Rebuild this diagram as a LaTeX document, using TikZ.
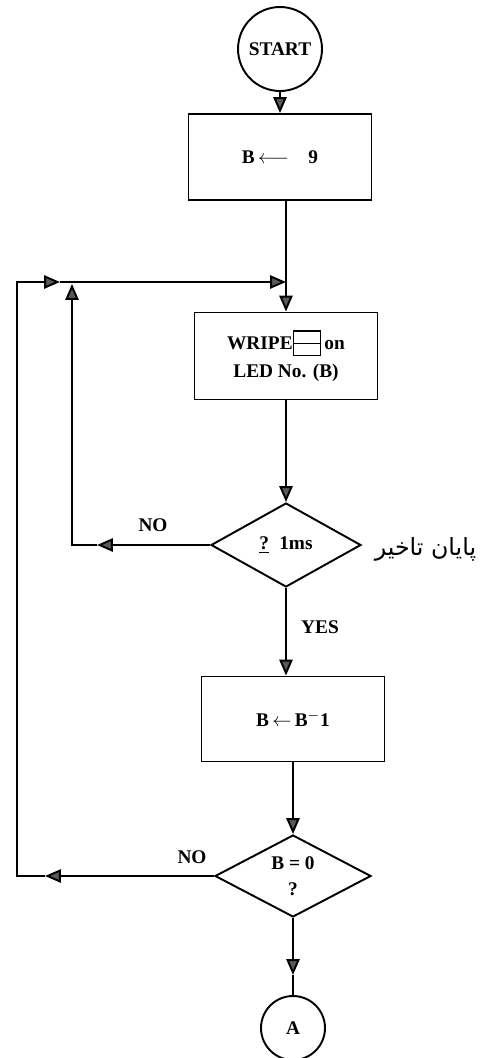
\documentclass[tikz,border=0pt]{standalone}
\usepackage{fontspec}
\setmainfont{Liberation Serif}
\newfontfamily\arabicfont[Script=Arabic]{DejaVu Sans}
\TeXXeTstate=1
\usetikzlibrary{positioning,shapes.geometric,arrows.meta,calc}

% small split box printed after WRIPE
\newcommand\segbox{\tikz[x=1cm,y=1cm,baseline=0pt]{%
    \draw[line width=0.9pt] (0,-0.12) rectangle (0.54,0.37);
    \draw[line width=0.7pt] (0,0.12) -- (0.54,0.12);}}

\begin{document}
\begin{tikzpicture}[
    x=0.02cm,y=-0.02cm,
    line width=1.1pt,
    arrow/.style={-{Triangle[length=9pt,width=7.5pt,fill=black!65]},line width=1.1pt},
    terminal/.style={circle,draw,line width=1.1pt,inner sep=0pt,
        font=\bfseries\fontsize{11}{14}\selectfont},
    process/.style={rectangle,draw,line width=1.1pt,minimum width=3.66cm,
        minimum height=1.72cm,align=center,font=\bfseries\fontsize{11}{16}\selectfont},
    decision/.style={diamond,draw,line width=1.1pt,inner sep=1pt,aspect=1.8,
        align=center,font=\bfseries\fontsize{11}{16}\selectfont},
    label/.style={font=\bfseries\fontsize{11}{14}\selectfont},
]
\useasboundingbox (0,0) rectangle (481,1058);

% === MAIN COLUMN ===
\node[terminal,minimum size=1.68cm] (start) at (280,49) {START};
\node[process] (set9) at (280,157) {B\,$\longleftarrow$\quad 9};
\node[process,minimum height=1.74cm] (wripe) at (286,356)
    {WRIPE\segbox\,on\\LED No. (B)};
\node[decision,minimum width=3cm,minimum height=1.68cm] (dly) at (286,545)
    {\underline{\smash{?}}\; 1ms};
\node[process,minimum height=1.7cm] (dec) at (293,719) {B\,$\leftarrow$\,B$^{-}$1};
\node[decision,minimum width=3.12cm,minimum height=1.64cm] (zero) at (293,876)
    {B = 0\\[-1pt]?};
\node[terminal,minimum size=1.28cm] (conA) at (293,1028) {A};

% delay note
\node[anchor=west,font=\arabicfont\fontsize{13.5}{16}\selectfont] (note) at (368,549)
    {\beginR پایان تاخیر\endR};

% === LABELS ===
\node[label] (no1) at (153,525) {NO};
\node[label] (yes) at (320,627) {YES};
\node[label] (no2) at (192,857) {NO};

% === MAIN FLOW ===
\coordinate (jn) at (286,282);
\draw[arrow] (start) -- (set9);
\draw (set9.south -| jn) -- (jn);
\draw[arrow] (jn) -- (wripe.north);
\draw[arrow] (wripe) -- (dly);
\draw[arrow] (dly.south) -- (dly.south |- dec.north);
\draw[arrow] (dec.south -| zero.north) -- (zero.north);

\coordinate (ea) at (293,975);
\draw[arrow] (zero.south) -- (ea);
\draw (ea) -- (conA.north);

% === DELAY LOOP (NO) ===
\coordinate (n1a) at (97,545);
\coordinate (n1up) at (72,284);
\draw[arrow] (dly.west) -- (n1a);
\draw[arrow] (n1a) -| (n1up);

% === COUNT LOOP (NO) ===
\coordinate (n2a) at (45,876);
\coordinate (lb) at (17,876);
\coordinate (lt) at (17,282);
\coordinate (la) at (60,282);
\draw[arrow] (zero.west) -- (n2a);
\draw[arrow] (n2a) -- (lb) -- (lt) -- (la);
\draw[arrow] (la) -- (jn);

\end{tikzpicture}
\end{document}
